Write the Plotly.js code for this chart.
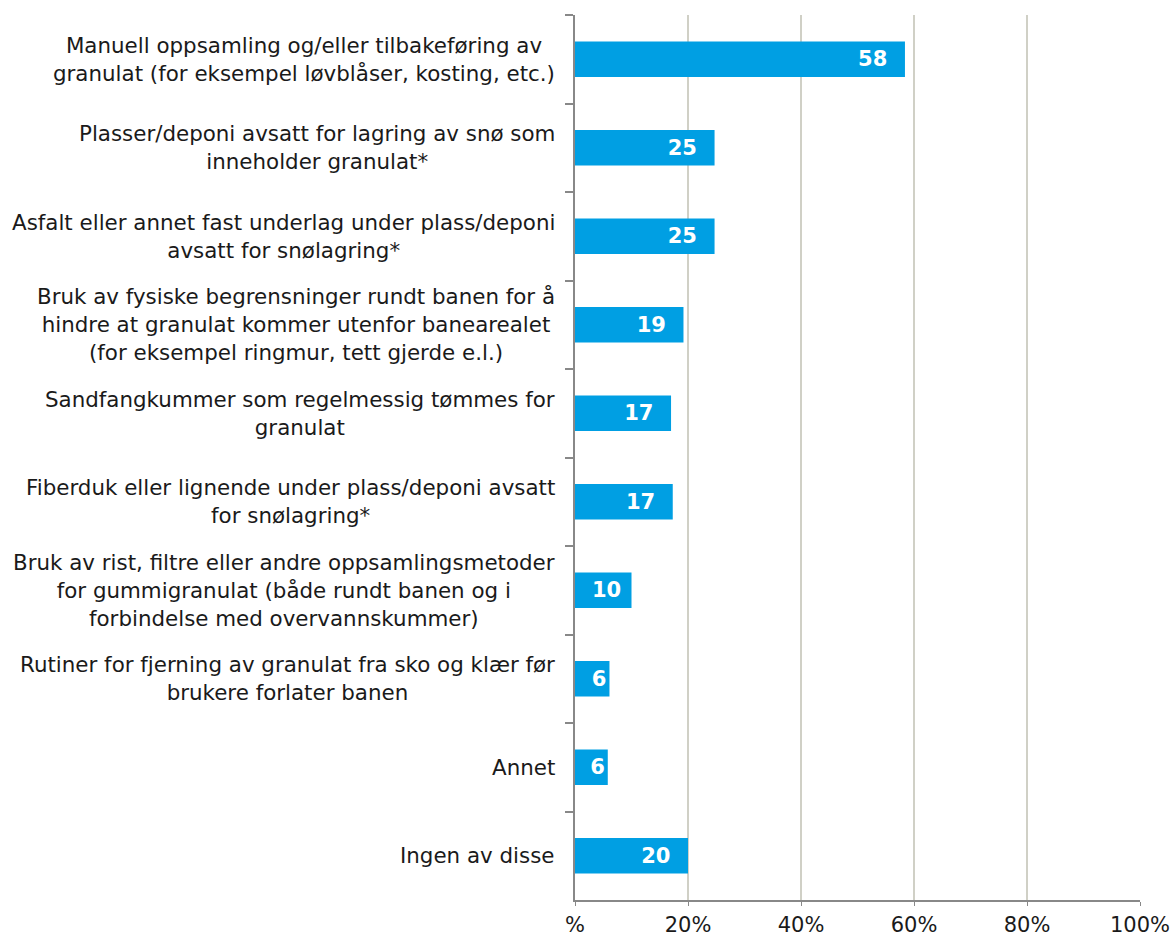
<!DOCTYPE html>
<html><head><meta charset="utf-8">
<script src="https://cdn.plot.ly/plotly-3.0.1.min.js"></script>
<style>html,body{margin:0;padding:0;background:#fff}</style>
</head><body>
<div id="chart" style="width:1176px;height:936px"></div>
<script>
const categories = [
  "Manuell oppsamling og/eller tilbakeføring av<br>granulat (for eksempel løvblåser, kosting, etc.)",
  "Plasser/deponi avsatt for lagring av snø som<br>inneholder granulat*",
  "Asfalt eller annet fast underlag under plass/deponi<br>avsatt for snølagring*",
  "Bruk av fysiske begrensninger rundt banen for å<br>hindre at granulat kommer utenfor banearealet<br>(for eksempel ringmur, tett gjerde e.l.)",
  "Sandfangkummer som regelmessig tømmes for<br>granulat",
  "Fiberduk eller lignende under plass/deponi avsatt<br>for snølagring*",
  "Bruk av rist, filtre eller andre oppsamlingsmetoder<br>for gummigranulat (både rundt banen og i<br>forbindelse med overvannskummer)",
  "Rutiner for fjerning av granulat fra sko og klær før<br>brukere forlater banen",
  "Annet",
  "Ingen av disse"
];
const values = [58.4, 24.7, 24.7, 19.2, 17.0, 17.3, 10.0, 6.1, 5.8, 20.0];
const xTickVals = [0, 20, 40, 60, 80, 100];
const xTickText = ["%", "20%", "40%", "60%", "80%", "100%"];

const ids = categories.map((c, i) => "c" + i);
// inside-end label padding: smaller for narrow bars
const labels = values.map(v => {
  const pad = v >= 15 ? "\u00a0\u00a0" : (v >= 9 ? "\u00a0" : "");
  return Math.round(v) + pad;
});

const trace = {
  type: "bar",
  orientation: "h",
  x: values,
  y: ids,
  marker: {color: "#009FE3"},
  text: labels,
  textposition: "inside",
  insidetextanchor: "end",
  textangle: 0,
  constraintext: "none",
  textfont: {family: "DejaVu Sans", size: 21, color: "#ffffff", weight: "bold"},
  hoverinfo: "none",
  cliponaxis: false
};

const annotations = categories.map((c, i) => ({
  xref: "paper", yref: "y", x: 0, y: ids[i],
  xanchor: "right", yanchor: "middle", xshift: -18,
  align: "center", showarrow: false,
  text: c,
  font: {family: "DejaVu Sans", size: 21.4, color: "#1a1a1a"}
}));

const layout = {
  width: 1176, height: 936,
  margin: {l: 575, r: 36, t: 15, b: 36},
  paper_bgcolor: "#ffffff", plot_bgcolor: "#ffffff",
  showlegend: false,
  bargap: 0.6,
  xaxis: {
    range: [0, 100], tickvals: xTickVals, ticktext: xTickText,
    showgrid: true, gridcolor: "#D0D0C6", gridwidth: 2,
    zeroline: false, showline: true, linecolor: "#888888", linewidth: 2,
    ticks: "outside", ticklen: 4, tickcolor: "#888888",
    ticklabelstandoff: 1,
    tickfont: {family: "DejaVu Sans", size: 21, color: "#1a1a1a"},
    fixedrange: true
  },
  yaxis: {
    type: "category", autorange: "reversed",
    showticklabels: false, showgrid: false, zeroline: false,
    showline: true, linecolor: "#888888", linewidth: 2,
    ticks: "outside", tickson: "boundaries", ticklen: 8, tickcolor: "#888888", tickwidth: 2,
    fixedrange: true
  },
  annotations: annotations
};

Plotly.newPlot("chart", [trace], layout, {displayModeBar: false, staticPlot: true});
</script>
</body></html>
